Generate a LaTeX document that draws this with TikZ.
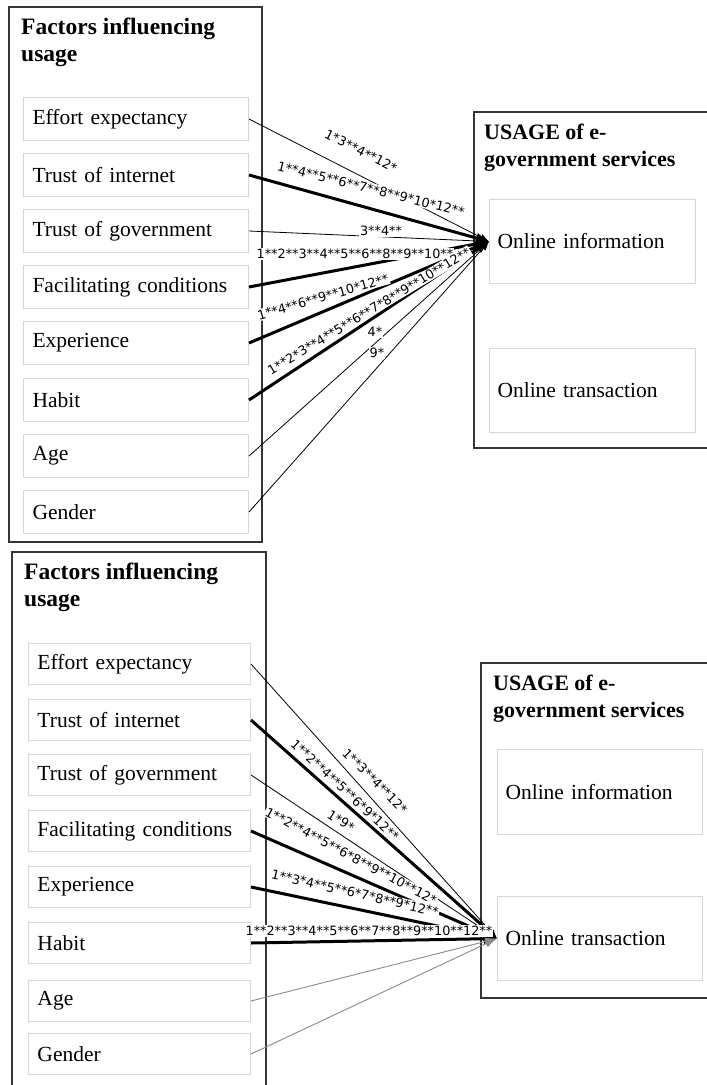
\documentclass[tikz,border=0pt]{standalone}
\usepackage{fontspec}
\setmainfont{Liberation Serif}
\newfontfamily\coeffamily{DejaVu Sans}
\usepackage{xcolor}
\usetikzlibrary{arrows.meta}
\definecolor{boxGray}{HTML}{D6D6D6}
\definecolor{frameGray}{HTML}{353535}
\definecolor{weakGray}{HTML}{8A8A8A}

\tikzset{
  frame/.style={draw=frameGray, line width=1.3pt},
  heading/.style={anchor=north west, inner sep=0pt, align=left, font=\bfseries\fontsize{22}{27}\selectfont},
  factor/.style={draw=boxGray, line width=1pt, anchor=north west, minimum height=43pt, text width=207pt, inner xsep=9pt, inner ysep=0pt, align=left, font=\fontsize{21.5}{24}\selectfont},
  usage/.style={factor, minimum height=84pt, text width=190pt, inner xsep=8pt},
  weaklink/.style={line width=0.8pt, -{Latex[length=9pt,width=7pt]}},
  stronglink/.style={line width=3pt, -{Latex[length=13pt,width=11pt]}},
  greylink/.style={draw=weakGray, line width=0.9pt, -{Latex[length=12pt,width=8pt]}},
  coef/.style={fill=white, inner sep=1pt, font=\coeffamily\fontsize{12.8}{15}\selectfont}
}

\begin{document}
\begin{tikzpicture}[x=1pt,y=-1pt]
\useasboundingbox (0,0) rectangle (707,1085);

% upper model: usage of online information
\draw[frame] (9,7) rectangle (262,542);
\draw[frame] (474,112) rectangle (715,448);
\node[heading, font=\bfseries\fontsize{23.5}{27}\selectfont] (factT) at (21,18) {Factors influencing\\usage};
\node[heading] (usageT) at (484,124) {USAGE of e-\\government services};
\node[factor] (effT) at (23,97) {Effort expectancy};
\node[factor] (intT) at (23,153) {Trust of internet};
\node[factor] (govT) at (23,209) {Trust of government};
\node[factor] (facT) at (23,265) {Facilitating conditions};
\node[factor] (expT) at (23,321) {Experience};
\node[factor] (habT) at (23,378) {Habit};
\node[factor] (ageT) at (23,434) {Age};
\node[factor] (genT) at (23,490) {Gender};
\node[usage] (infoT) at (489,199) {Online information};
\node[usage] (tranT) at (489,348) {Online transaction};

\draw[weaklink] (effT.east) -- (infoT.west);
\draw[stronglink] (intT.east) -- (infoT.west);
\draw[weaklink] (govT.east) -- (infoT.west);
\draw[stronglink] (facT.east) -- (infoT.west);
\draw[stronglink] (expT.east) -- (infoT.west);
\draw[stronglink] (habT.east) -- (infoT.west);
\draw[weaklink] (ageT.east) -- (infoT.west);
\draw[weaklink] (genT.east) -- (infoT.west);

\node[coef, rotate=-27] (cEffT) at (361,151) {1*3**4**12*};
\node[coef, rotate=-14] (cIntT) at (371,189) {1**4**5**6**7**8**9*10*12**};
\node[coef] (cGovT) at (381,231) {3**4**};
\node[coef] (cFacT) at (355,254) {1**2**3**4**5**6**8**9**10**};
\node[coef, rotate=16] (cExpT) at (323,297) {1**4**6**9**10*12**};
\node[coef, rotate=31] (cHabT) at (369,311) {1**2*3**4**5**6**7*8**9**10**12**};
\node[coef] (cAgeT) at (375,332) {4*};
\node[coef] (cGenT) at (377,353) {9*};

% lower model: usage of online transaction
\draw[frame] (12,552) rectangle (266,1100);
\draw[frame] (481,663) rectangle (715,998);
\node[heading, font=\bfseries\fontsize{23.5}{27}\selectfont] (factB) at (24,563) {Factors influencing\\usage};
\node[heading] (usageB) at (493,675) {USAGE of e-\\government services};
\node[factor, minimum height=41pt, text width=204pt] (effB) at (28,643) {Effort expectancy};
\node[factor, minimum height=41pt, text width=204pt] (intB) at (28,699) {Trust of internet};
\node[factor, minimum height=41pt, text width=204pt] (govB) at (28,754) {Trust of government};
\node[factor, minimum height=41pt, text width=204pt] (facB) at (28,810) {Facilitating conditions};
\node[factor, minimum height=41pt, text width=204pt] (expB) at (28,866) {Experience};
\node[factor, minimum height=41pt, text width=204pt] (habB) at (28,922) {Habit};
\node[factor, minimum height=41pt, text width=204pt] (ageB) at (28,980) {Age};
\node[factor, minimum height=41pt, text width=204pt] (genB) at (28,1033) {Gender};
\node[usage, minimum height=85pt, text width=189pt] (infoB) at (497,749) {Online information};
\node[usage, text width=189pt] (tranB) at (497,896) {Online transaction};

\draw[weaklink] (effB.east) -- (tranB.west);
\draw[stronglink] (intB.east) -- (tranB.west);
\draw[weaklink] (govB.east) -- (tranB.west);
\draw[stronglink] (facB.east) -- (tranB.west);
\draw[stronglink] (expB.east) -- (tranB.west);
\draw[stronglink] (habB.east) -- (tranB.west);

\node[coef, rotate=-45] (cEffB) at (375,781) {1**3**4**12*};
\node[coef, rotate=-43] (cIntB) at (345,790) {1**2**4**5**6*9*12**};
\node[coef, rotate=-32] (cGovB) at (341,821) {1*9*};
\node[coef, rotate=-28] (cFacB) at (351,856) {1**2**4**5**6*8**9**10**12*};
\node[coef, rotate=-13] (cExpB) at (355,893) {1**3*4**5**6*7*8**9*12**};
\node[coef] (cHabB) at (369,931) {1**2**3**4**5**6**7**8**9**10**12**};

\draw[greylink] (ageB.east) -- (tranB.west);
\draw[greylink] (genB.east) -- (tranB.west);
\end{tikzpicture}
\end{document}
